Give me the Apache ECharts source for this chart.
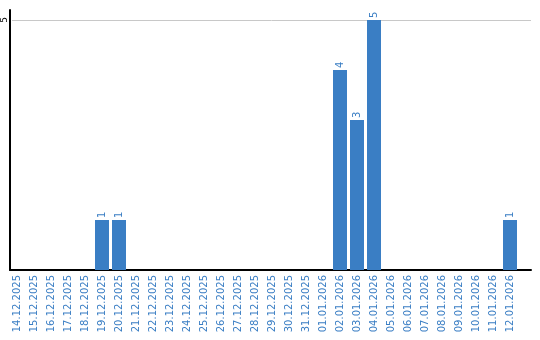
<!DOCTYPE html>
<html><head><meta charset="utf-8">
<script src="https://cdn.jsdelivr.net/npm/echarts@6/dist/echarts.min.js"></script>
<style>html,body{margin:0;padding:0;background:#fff}#c{width:540px;height:340px}</style>
</head><body><div id="c"></div>
<script>
const categories = ["14.12.2025","15.12.2025","16.12.2025","17.12.2025","18.12.2025","19.12.2025","20.12.2025","21.12.2025","22.12.2025","23.12.2025","24.12.2025","25.12.2025","26.12.2025","27.12.2025","28.12.2025","29.12.2025","30.12.2025","31.12.2025","01.01.2026","02.01.2026","03.01.2026","04.01.2026","05.01.2026","06.01.2026","07.01.2026","08.01.2026","09.01.2026","10.01.2026","11.01.2026","12.01.2026"];
const values = [0,0,0,0,0,1,1,0,0,0,0,0,0,0,0,0,0,0,0,4,3,5,0,0,0,0,0,0,0,1];
const yTicks = [5];

const blue = '#3a7ec4';
const chart = echarts.init(document.getElementById('c'));
chart.setOption({
  animation: false,
  textStyle: {fontFamily: 'DejaVu Sans'},
  grid: [
    {left: 8.5, width: 510, top: 10, bottom: 70},
    {left: 10, right: 9, top: 10, bottom: 70},
    {left: 10, right: 9, top: 20, bottom: 70}
  ],
  xAxis: [
    {type: 'category', gridIndex: 0, data: categories,
     axisLine: {show: false}, axisTick: {show: false},
     axisLabel: {rotate: 90, interval: 0, color: blue, fontSize: 10, margin: 5, fontFamily: 'DejaVu Sans'}},
    {type: 'value', gridIndex: 1, min: 0, max: 1,
     axisLine: {show: true, lineStyle: {color: '#000', width: 2}}, axisTick: {show: false},
     axisLabel: {show: false}, splitLine: {show: false}},
    {type: 'value', gridIndex: 2, min: 0, max: 1, show: false, splitLine: {show: false}}
  ],
  yAxis: [
    {type: 'value', gridIndex: 0, min: 0, max: 5.2, show: false, splitLine: {show: false}},
    {type: 'value', gridIndex: 1, min: 0, max: 1,
     axisLine: {show: true, lineStyle: {color: '#000', width: 2}}, axisTick: {show: false},
     axisLabel: {show: false}, splitLine: {show: false}},
    {type: 'value', gridIndex: 2, min: 0, max: 5, interval: 5,
     axisLine: {show: false}, axisTick: {show: false},
     axisLabel: {rotate: 90, color: '#000', fontSize: 9, margin: 3, showMinLabel: false,
       formatter: v => yTicks.includes(v) ? String(v) : ''},
     splitLine: {show: true, lineStyle: {color: '#c8c8c8', width: 1}}}
  ],
  series: [{
    type: 'bar', xAxisIndex: 0, yAxisIndex: 0, data: values.map(v => v === 0 ? null : v),
    barWidth: 14, itemStyle: {color: blue}, z: 3,
    label: {show: true, position: 'top', rotate: 90, align: 'left', verticalAlign: 'middle',
            distance: 2, color: blue, fontSize: 10, fontFamily: 'DejaVu Sans'}
  }]
});
</script></body></html>
